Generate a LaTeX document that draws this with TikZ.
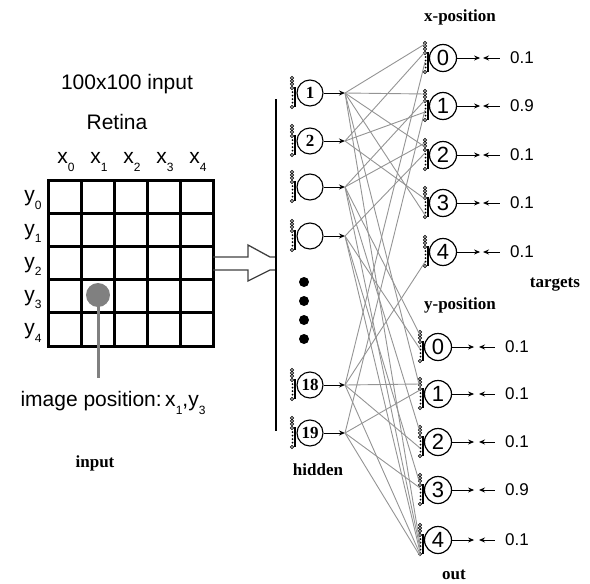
\documentclass[tikz,border=0pt]{standalone}
\usepackage{fontspec}
\setmainfont{Liberation Serif}
\newfontfamily\arialf{Liberation Sans}
\usetikzlibrary{arrows.meta,calc}
\newcommand\subs[1]{\raisebox{-0.35em}{\fontsize{12}{12}\selectfont #1}}
\begin{document}
\begin{tikzpicture}[x=1pt,y=-1pt,
  gridl/.style={line width=3pt,line cap=rect},
  hid/.style={circle,draw,line width=1.1pt,minimum size=26pt,inner sep=0pt,font=\fontsize{17}{17}\selectfont\bfseries},
  outn/.style={circle,draw,line width=1.2pt,minimum size=27pt,inner sep=0pt,font=\arialf\fontsize{22}{22}\selectfont},
  lbl/.style={font=\fontsize{17}{17}\selectfont\bfseries},
  sans/.style={font=\arialf\fontsize{21}{24}\selectfont},
  axlab/.style={font=\arialf\fontsize{21}{21}\selectfont,inner sep=0pt},
  val/.style={font=\arialf\fontsize{17}{17}\selectfont,inner sep=0pt},
  conn/.style={draw=black!42,line width=0.9pt},
  arr/.style={-{Stealth[length=6pt,width=5pt]},line width=1pt},
  syn/.pic={
    \foreach \yy in {-15,-12,-9,-5} \draw[line width=0.7pt] (-18,\yy) circle (1.7pt);
    \foreach \yy in {-1,2.5,6,9.5} \fill (-17.5,\yy) circle (1pt);
    \draw[line width=0.7pt] (-18,14) circle (1.7pt);
    \draw[line width=1.2pt] (-15,-6) -- (-15,14);
  }
]
\useasboundingbox (0,0) rectangle (590,584);

% ---------- retina ----------
\node[sans] (title) at (127,84) {100x100 input};
\node[sans] (retina) at (117,122) {Retina};
\foreach \i in {0,...,4} {
  \node[axlab] (xl\i) at (66+33*\i,162) {x\subs{\i}};
  \node[axlab] (yl\i) at (33,200+33.2*\i) {y\subs{\i}};
}
\foreach \i in {0,...,5} {
  \draw[gridl] (48+33*\i,180) -- (48+33*\i,346);
  \draw[gridl] (48,180+33.2*\i) -- (213,180+33.2*\i);
}
\node[circle,fill=black!50,minimum size=24pt,inner sep=0pt] (dot) at (98,295) {};
\coordinate (ipc) at (98,378);
\draw[black!50,line width=3pt] (dot.center) -- (ipc);
\node[sans] (ip) at (113,403) {image position:\,x\subs{1},y\subs{3}};
\node[lbl] (inlab) at (95,463) {input};

% ---------- big arrow ----------
\draw[black!75,line width=1.3pt] (213,257) -- (248,257) -- (248,245) -- (270,257) -- (276,257);
\draw[black!75,line width=1.3pt] (213,270) -- (248,270) -- (248,281) -- (270,270) -- (276,270);
\draw[line width=1.5pt] (276,99) -- (276,431);

% ---------- hidden layer ----------
\foreach \n/\yy/\t in {h1/93/1,h2/141/2,h3/187/{},h4/236/{},h18/385/18,h19/433/19} {
  \node[hid] (\n) at (310,\yy) {\t};
  \pic at (\n) {syn};
  \coordinate (t\n) at (345,\yy);
  \draw[arr] (\n.east) -- (t\n);
}
\foreach \yy in {282,301,320,339} \fill (304,\yy) circle (5pt);
\node[lbl] (hidlab) at (318,470) {hidden};

% ---------- output layer ----------
\node[lbl] (xpos) at (460,17) {x-position};
\foreach \i/\yy/\v in {0/58/0.1,1/106/0.9,2/155/0.1,3/203/0.1,4/252/0.1} {
  \node[outn] (xo\i) at (443,\yy) {\i};
  \pic at (xo\i) {syn};
  \node[val] (tx\i) at (522,\yy) {\v};
  \draw[arr] (xo\i.east) -- ++(23,0);
  \draw[arr] ([xshift=-10pt]tx\i.west) -- ++(-17,0);
}
\node[lbl] (targ) at (555,285) {targets};
\node[lbl] (ypos) at (460,305) {y-position};
\foreach \i/\yy/\v in {0/347/0.1,1/394/0.1,2/442/0.1,3/490/0.9,4/540/0.1} {
  \node[outn] (yo\i) at (438,\yy) {\i};
  \pic at (yo\i) {syn};
  \node[val] (ty\i) at (517,\yy) {\v};
  \draw[arr] (yo\i.east) -- ++(22,0);
  \draw[arr] ([xshift=-10pt]ty\i.west) -- ++(-16,0);
}
\node[lbl] (outlab) at (454,575) {out};

% ---------- connections ----------
\foreach \s/\t/\d in {
  h1/xo0/-14, h1/xo1/-12, h1/xo2/-8, h1/xo3/12, h1/yo1/-6, h1/yo4/4,
  h2/xo0/-6, h2/xo1/6, h2/xo3/-4,
  h3/xo1/-6, h3/xo2/-12, h3/yo0/-12, h3/yo2/-10, h3/yo4/8,
  h4/xo2/-2, h4/yo0/2, h4/yo3/-6, h4/yo4/12,
  h18/xo0/4, h18/xo4/10, h18/yo1/-10, h18/yo2/6, h18/yo4/14,
  h19/xo1/4, h19/yo1/-4, h19/yo3/-2, h19/yo4/16} {
  \draw[conn] (t\s) -- ($(\t)+(-18,\d)$);
}
\end{tikzpicture}
\end{document}
